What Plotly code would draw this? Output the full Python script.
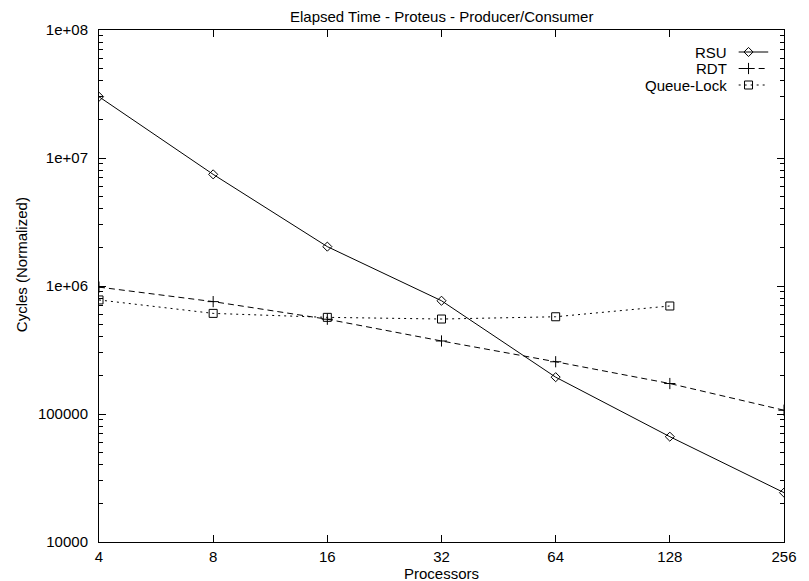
import numpy as np
import plotly.graph_objects as go

processors = [4, 8, 16, 32, 64, 128, 256]
rsu = [3.01e7, 7.45e6, 2.03e6, 7.67e5, 1.94e5, 6.65e4, 2.43e4]
rdt = [9.8e5, 7.55e5, 5.5e5, 3.72e5, 2.56e5, 1.73e5, 1.07e5]
queue_lock = [7.78e5, 6.11e5, 5.69e5, 5.52e5, 5.75e5, 6.98e5]
queue_procs = processors[:6]

x_ticks = processors
y_tickvals = [1e4, 1e5, 1e6, 1e7, 1e8]
y_ticktext = ["10000", "100000", "1e+06", "1e+07", "1e+08"]
y_minor = [m * 10 ** e for e in range(4, 8) for m in range(2, 10)]

names = ["RSU", "RDT", "Queue-Lock"]
dashes = ["solid", "6px,4px", "2px,4px"]
symbols = ["diamond-open", "cross-thin", "square-open"]
msizes = [7, 8, 8]

FONT = "Liberation Sans, Arial, sans-serif"
FS = 15

# page body has an 8px margin: work in screenshot pixels, shift by OFF
OFF = 8
W, H = 809 - OFF, 581 - OFF
X0, X1, Y0, Y1 = 99 - OFF, 794 - OFF, 30 - OFF, 542 - OFF   # plot box in figure px
L, R, T, B = X0, W - X1, Y0, H - Y1
pw, ph = X1 - X0, Y1 - Y0


def px(sx):
    return (sx - OFF - X0) / pw


def py(sy):
    return (Y1 - (sy - OFF)) / ph


fig = go.Figure()
series = [(processors, rsu), (processors, rdt), (queue_procs, queue_lock)]
for (xs, ys), n, d, s, ms in zip(series, names, dashes, symbols, msizes):
    fig.add_trace(go.Scatter(
        x=xs, y=ys, mode="lines+markers", name=n, showlegend=False,
        line=dict(color="black", width=1, dash=d),
        marker=dict(symbol=s, size=ms, color="black",
                    line=dict(color="black", width=1)),
    ))

# legend keys (text on the left, sample on the right, gnuplot style)
leg_y = [52, 68.5, 85]
for n, d, s, ms, ly in zip(names, dashes, symbols, msizes, leg_y):
    fig.add_trace(go.Scatter(
        x=[px(748), px(778)], y=[py(ly), py(ly)], mode="lines",
        xaxis="x2", yaxis="y2", showlegend=False, hoverinfo="skip",
        line=dict(color="black", width=1, dash=d)))
    fig.add_trace(go.Scatter(
        x=[px(758)], y=[py(ly)], mode="markers",
        xaxis="x2", yaxis="y2", showlegend=False, hoverinfo="skip",
        marker=dict(symbol=s, size=ms, color="black",
                    line=dict(color="black", width=1))))
    fig.add_annotation(x=px(738), y=py(ly), xref="paper", yref="paper",
                       text=n, showarrow=False, xanchor="right",
                       yanchor="middle", font=dict(family=FONT, size=FS, color="black"))

fig.update_layout(
    width=W, height=H,
    margin=dict(l=L, r=R, t=T, b=B, pad=0),
    paper_bgcolor="white", plot_bgcolor="white",
    font=dict(family=FONT, size=FS, color="black"),
    xaxis=dict(type="log", range=[np.log10(4), np.log10(256)],
               tickmode="array", tickvals=x_ticks, ticktext=[str(v) for v in x_ticks],
               ticks="inside", ticklen=7, tickcolor="black", showline=True,
               linecolor="black", linewidth=1, mirror="ticks", showgrid=False,
               zeroline=False, ticklabelstandoff=1),
    yaxis=dict(type="log", range=[4, 8], tickmode="array", tickvals=y_tickvals,
               ticktext=y_ticktext, ticks="inside", ticklen=7, tickcolor="black",
               showline=True, linecolor="black", linewidth=1, mirror="ticks",
               showgrid=False, zeroline=False, ticklabelstandoff=7,
               minor=dict(tickmode="array", tickvals=y_minor, ticks="inside",
                          ticklen=4, tickcolor="black", showgrid=False)),
    xaxis2=dict(range=[0, 1], overlaying="x", visible=False),
    yaxis2=dict(range=[0, 1], overlaying="y", visible=False),
    annotations=list(fig.layout.annotations) + [
        dict(text="Elapsed Time - Proteus - Producer/Consumer", x=0.5, y=py(16),
             xref="paper", yref="paper", showarrow=False, xanchor="center", yanchor="middle",
             borderpad=0, font=dict(family=FONT, size=FS)),
        dict(text="Processors", x=0.5, y=py(573), xref="paper", yref="paper",
             showarrow=False, xanchor="center", yanchor="middle", borderpad=0,
             height=12, valign="middle", font=dict(family=FONT, size=FS)),
        dict(text="Cycles (Normalized)", x=px(20), y=py(265),
             xref="paper", yref="paper", showarrow=False, textangle=-90,
             xanchor="center", yanchor="middle", font=dict(family=FONT, size=FS)),
    ],
)

fig.write_html("out.html")
